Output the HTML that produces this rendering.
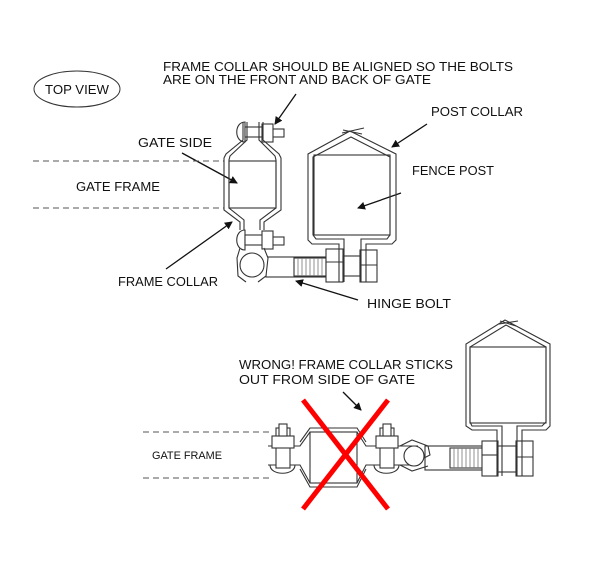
<!DOCTYPE html>
<html><head><style>
html,body{margin:0;padding:0;background:#fff;}
svg{display:block;}
text{font-family:"Liberation Sans",sans-serif;font-size:13px;fill:#111;}
</style></head><body>
<svg width="600" height="561" viewBox="0 0 600 561" xmlns="http://www.w3.org/2000/svg">
<defs>
<marker id="ah" markerWidth="8" markerHeight="8" refX="7" refY="4" orient="auto" markerUnits="userSpaceOnUse">
<path d="M0,0 L8,4 L0,8 z" fill="#111"/></marker>
</defs>
<g fill="none" stroke="#333" stroke-width="1">
<ellipse cx="77" cy="89" rx="43" ry="18"/>
</g>
<text x="45" y="94" textLength="64" lengthAdjust="spacingAndGlyphs">TOP VIEW</text>
<text x="163" y="71" textLength="350" lengthAdjust="spacingAndGlyphs">FRAME COLLAR SHOULD BE ALIGNED SO THE BOLTS</text>
<text x="163" y="84" textLength="268" lengthAdjust="spacingAndGlyphs">ARE ON THE FRONT AND BACK OF GATE</text>
<text x="138" y="147" textLength="74" lengthAdjust="spacingAndGlyphs">GATE SIDE</text>
<text x="76" y="191" textLength="84" lengthAdjust="spacingAndGlyphs">GATE FRAME</text>
<text x="118" y="286" textLength="100" lengthAdjust="spacingAndGlyphs">FRAME COLLAR</text>
<text x="367" y="308" textLength="84" lengthAdjust="spacingAndGlyphs">HINGE BOLT</text>
<text x="431" y="116" textLength="92" lengthAdjust="spacingAndGlyphs">POST COLLAR</text>
<text x="412" y="175" textLength="82" lengthAdjust="spacingAndGlyphs">FENCE POST</text>
<text x="239" y="369" textLength="214" lengthAdjust="spacingAndGlyphs">WRONG! FRAME COLLAR STICKS</text>
<text x="239" y="384" textLength="176" lengthAdjust="spacingAndGlyphs">OUT FROM SIDE OF GATE</text>
<text x="152" y="459" style="font-size:11px" textLength="70" lengthAdjust="spacingAndGlyphs">GATE FRAME</text>

<g stroke="#111" stroke-width="1.3" fill="none" marker-end="url(#ah)">
<line x1="296" y1="94" x2="275" y2="124"/>
<line x1="182" y1="153" x2="237" y2="183"/>
<line x1="166" y1="269" x2="232" y2="222"/>
<line x1="358" y1="300" x2="296" y2="281"/>
<line x1="427" y1="124" x2="392" y2="147"/>
<line x1="401" y1="193" x2="358" y2="208"/>
<line x1="343" y1="392" x2="361" y2="410"/>
</g>

<g fill="none" stroke="#555" stroke-width="1">
<line x1="33" y1="161" x2="224" y2="161" stroke-dasharray="6,4"/>
<line x1="33" y1="208" x2="224" y2="208" stroke-dasharray="6,4"/>
<line x1="143" y1="432" x2="272" y2="432" stroke-dasharray="6,4"/>
<line x1="143" y1="478" x2="272" y2="478" stroke-dasharray="6,4"/>
</g>

<g fill="#fff" stroke="#333" stroke-width="1.1">
<path d="M245,122 C234,122 234,142 245,142 Z"/>
<rect x="245" y="127" width="20" height="10"/>
<rect x="272" y="129" width="12" height="8"/>
<rect x="262" y="124" width="11" height="18"/>
<path d="M245,230 C234,230 234,250 245,250 Z"/>
<rect x="245" y="235" width="20" height="10"/>
<rect x="272" y="237" width="12" height="8"/>
<rect x="262" y="231" width="11" height="18"/>
<path d="M243,122 L243,140 L226,154 L224,158 L224,210 L240,222 L240,230 M263,122 L263,140 L279,154 L281,158 L281,210 L264,222 L264,230" fill="none"/>
<path d="M247,122 L247,140 L230,156 L229,160 L229,208 L244,220 L244,230 M259,122 L259,140 L275,156 L276,160 L276,208 L260,220 L260,230" fill="none"/>
<rect x="229" y="161" width="47" height="47" fill="none"/>
<rect x="266" y="257" width="60" height="20"/>
<rect x="294" y="258" width="32" height="18"/>
<g stroke="#777" stroke-width="0.8">
<line x1="298" y1="258" x2="298" y2="276"/><line x1="302" y1="258" x2="302" y2="276"/><line x1="306" y1="258" x2="306" y2="276"/><line x1="310" y1="258" x2="310" y2="276"/><line x1="314" y1="258" x2="314" y2="276"/><line x1="318" y1="258" x2="318" y2="276"/><line x1="322" y1="258" x2="322" y2="276"/>
</g>
<path d="M240,248 L237,258 L238,276 L246,282 M264,248 L268,258 L266,276 L258,282" fill="#fff"/>
<circle cx="252" cy="265" r="12"/>
<rect x="326" y="249" width="17" height="33"/>
<line x1="326" y1="262" x2="343" y2="262"/>
<rect x="343" y="256" width="17" height="20"/>
<rect x="360" y="250" width="17" height="32"/>
<line x1="360" y1="265" x2="377" y2="265"/>
<path d="M339,282 L339,244 L312,244 L308,240 L308,154 L350,131 L396,154 L396,240 L392,244 L366,244 L366,282" fill="none"/>
<path d="M344,282 L344,239 L316,239 L313,235 L313,157 L351,137 L390,157 L390,235 L387,239 L361,239 L361,282" fill="none"/>
<rect x="314" y="155" width="76" height="80" fill="none"/>
<line x1="342" y1="133" x2="364" y2="128"/>
<line x1="343" y1="130" x2="362" y2="134"/>
</g>

<g fill="#fff" stroke="#333" stroke-width="1.1">
<rect x="425" y="446" width="60" height="24"/>
<rect x="450" y="448" width="34" height="20"/>
<g stroke="#777" stroke-width="0.8">
<line x1="454" y1="448" x2="454" y2="468"/><line x1="458" y1="448" x2="458" y2="468"/><line x1="462" y1="448" x2="462" y2="468"/><line x1="466" y1="448" x2="466" y2="468"/><line x1="470" y1="448" x2="470" y2="468"/><line x1="474" y1="448" x2="474" y2="468"/><line x1="478" y1="448" x2="478" y2="468"/>
</g>
<rect x="482" y="441" width="16" height="35"/>
<line x1="482" y1="455" x2="498" y2="455"/>
<rect x="498" y="446" width="18" height="26"/>
<rect x="516" y="441" width="17" height="35"/>
<line x1="516" y1="457" x2="533" y2="457"/>
<path d="M497,476 L497,430 L472,430 L466,426 L466,344 L505,320 L550,344 L550,426 L546,430 L522,430 L522,476" fill="none"/>
<path d="M502,476 L502,426 L472,426 L470,422 L470,347 L506,325 L546,347 L546,422 L542,426 L517,426 L517,476" fill="none"/>
<rect x="470" y="347" width="76" height="76" fill="none"/>
<line x1="499" y1="324" x2="518" y2="321"/>
<line x1="500" y1="321" x2="516" y2="326"/>
<path d="M268,446 L300,446 L310,432 L357,432 L366,446 L418,446 M268,465 L300,465 L310,483 L357,483 L366,465 L418,465" fill="none"/>
<path d="M300,442 L310,428 L357,428 L366,442 M300,469 L310,487 L357,487 L366,469" fill="none"/>
<rect x="310" y="432" width="47" height="51" fill="none"/>
<path d="M270,465 C270,476 295,476 295,465 Z"/>
<rect x="276" y="428" width="14" height="40"/>
<rect x="272" y="436" width="22" height="12"/>
<rect x="279" y="424" width="8" height="12"/>
<path d="M374,465 C374,476 399,476 399,465 Z"/>
<rect x="380" y="428" width="14" height="40"/>
<rect x="376" y="436" width="22" height="12"/>
<rect x="383" y="424" width="8" height="12"/>
<path d="M400,446 L412,440 L428,446 L430,455 L424,458 M400,465 L412,471 L428,466" fill="none"/>
<circle cx="414" cy="456" r="10"/>
</g>
<g stroke="#f00" stroke-width="5">
<line x1="303" y1="400" x2="388" y2="509"/>
<line x1="388" y1="400" x2="303" y2="509"/>
</g>
</svg>
</body></html>
